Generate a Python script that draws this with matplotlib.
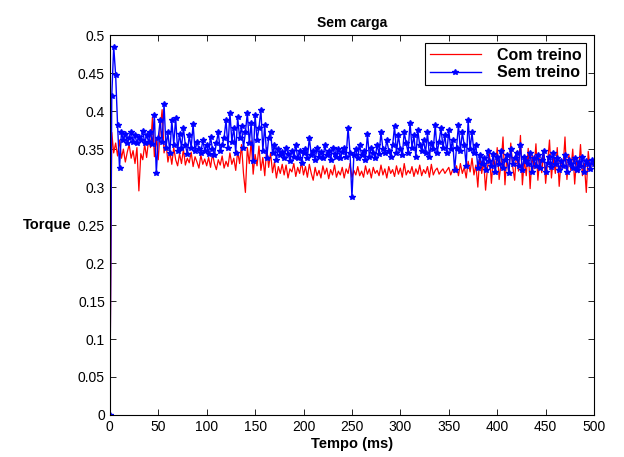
import numpy as np
import matplotlib
matplotlib.use("Agg")
import matplotlib.pyplot as plt

plt.rcParams['font.family'] = ['Liberation Sans', 'DejaVu Sans']

# time axis (ms), sampled every 2 ms
tempo = np.arange(0, 502, 2)

# torque with training (red)
com_treino = [
    0, 0.372, 0.345, 0.358, 0.341, 0.362, 0.338, 0.350, 0.333, 0.346,
    0.356, 0.338, 0.348, 0.331, 0.352, 0.295, 0.344, 0.336, 0.356, 0.339,
    0.362, 0.352, 0.392, 0.340, 0.365, 0.336, 0.376, 0.402, 0.345, 0.358,
    0.333, 0.347, 0.330, 0.352, 0.336, 0.328, 0.344, 0.331, 0.350, 0.329,
    0.338, 0.332, 0.346, 0.327, 0.340, 0.333, 0.325, 0.342, 0.330, 0.337,
    0.328, 0.339, 0.326, 0.344, 0.331, 0.323, 0.336, 0.329, 0.341, 0.325,
    0.334, 0.327, 0.345, 0.330, 0.338, 0.322, 0.347, 0.331, 0.356, 0.318,
    0.293, 0.352, 0.331, 0.361, 0.317, 0.343, 0.328, 0.354, 0.322, 0.339,
    0.315, 0.352, 0.326, 0.345, 0.319, 0.333, 0.312, 0.327, 0.318, 0.330,
    0.316, 0.329, 0.312, 0.324, 0.320, 0.331, 0.314, 0.326, 0.318, 0.333,
    0.316, 0.327, 0.313, 0.330, 0.318, 0.309, 0.326, 0.315, 0.322, 0.312,
    0.328, 0.317, 0.325, 0.311, 0.323, 0.316, 0.329, 0.313, 0.321, 0.316,
    0.326, 0.312, 0.324, 0.318, 0.331, 0.313, 0.322, 0.316, 0.327, 0.315,
    0.321, 0.313, 0.328, 0.317, 0.324, 0.312, 0.326, 0.318, 0.322, 0.315,
    0.329, 0.316, 0.324, 0.312, 0.327, 0.318, 0.323, 0.314, 0.328, 0.317,
    0.325, 0.313, 0.331, 0.316, 0.322, 0.318, 0.327, 0.314, 0.324, 0.317,
    0.329, 0.315, 0.323, 0.318, 0.327, 0.313, 0.330, 0.316, 0.322, 0.325,
    0.317, 0.321, 0.324, 0.318, 0.322, 0.326, 0.316, 0.323, 0.319, 0.328,
    0.315, 0.331, 0.318, 0.326, 0.312, 0.334, 0.320, 0.338, 0.316, 0.329,
    0.300, 0.341, 0.318, 0.335, 0.296, 0.326, 0.344, 0.305, 0.338, 0.322,
    0.352, 0.310, 0.331, 0.366, 0.303, 0.341, 0.318, 0.358, 0.327, 0.309,
    0.347, 0.321, 0.368, 0.303, 0.336, 0.315, 0.351, 0.298, 0.342, 0.324,
    0.357, 0.309, 0.338, 0.319, 0.348, 0.305, 0.332, 0.362, 0.312, 0.340,
    0.318, 0.352, 0.301, 0.336, 0.325, 0.366, 0.310, 0.343, 0.322, 0.350,
    0.304, 0.338, 0.319, 0.356, 0.315, 0.331, 0.293, 0.347, 0.323, 0.336,
    0.328,
]

# torque without training (blue)
sem_treino = [
    0, 0.420, 0.485, 0.448, 0.382, 0.325, 0.372, 0.362, 0.370, 0.358,
    0.365, 0.372, 0.360, 0.368, 0.358, 0.366, 0.362, 0.374, 0.358, 0.368,
    0.360, 0.372, 0.357, 0.395, 0.318, 0.365, 0.388, 0.360, 0.409, 0.352,
    0.372, 0.345, 0.388, 0.356, 0.391, 0.348, 0.370, 0.352, 0.378, 0.355,
    0.344, 0.368, 0.352, 0.383, 0.347, 0.360, 0.350, 0.345, 0.362, 0.348,
    0.356, 0.344, 0.366, 0.350, 0.342, 0.358, 0.372, 0.348, 0.355, 0.365,
    0.388, 0.352, 0.398, 0.360, 0.378, 0.345, 0.392, 0.365, 0.380, 0.352,
    0.372, 0.398, 0.358, 0.385, 0.335, 0.395, 0.362, 0.378, 0.402, 0.348,
    0.382, 0.338, 0.365, 0.372, 0.345, 0.355, 0.336, 0.350, 0.342, 0.346,
    0.338, 0.352, 0.344, 0.335, 0.348, 0.340, 0.356, 0.338, 0.347, 0.332,
    0.345, 0.350, 0.338, 0.365, 0.342, 0.348, 0.336, 0.352, 0.340, 0.346,
    0.338, 0.355, 0.342, 0.348, 0.336, 0.352, 0.344, 0.340, 0.350, 0.338,
    0.346, 0.352, 0.340, 0.378, 0.345, 0.287, 0.342, 0.350, 0.338, 0.355,
    0.342, 0.348, 0.336, 0.370, 0.340, 0.352, 0.345, 0.338, 0.356, 0.343,
    0.372, 0.350, 0.345, 0.362, 0.348, 0.340, 0.355, 0.380, 0.345, 0.368,
    0.350, 0.342, 0.372, 0.358, 0.345, 0.385, 0.352, 0.368, 0.340, 0.375,
    0.355, 0.348, 0.362, 0.345, 0.372, 0.340, 0.358, 0.350, 0.382, 0.345,
    0.360, 0.378, 0.352, 0.368, 0.345, 0.375, 0.350, 0.362, 0.322, 0.352,
    0.382, 0.348, 0.372, 0.355, 0.328, 0.388, 0.350, 0.372, 0.345, 0.355,
    0.325, 0.342, 0.330, 0.338, 0.322, 0.348, 0.335, 0.328, 0.344, 0.320,
    0.340, 0.330, 0.348, 0.325, 0.336, 0.342, 0.318, 0.350, 0.330, 0.338,
    0.345, 0.328, 0.355, 0.322, 0.340, 0.334, 0.330, 0.345, 0.320, 0.338,
    0.328, 0.342, 0.325, 0.336, 0.348, 0.320, 0.332, 0.340, 0.326, 0.345,
    0.330, 0.338, 0.322, 0.335, 0.328, 0.342, 0.320, 0.336, 0.330, 0.325,
    0.338, 0.322, 0.333, 0.328, 0.340, 0.320, 0.335, 0.330, 0.324, 0.336,
    0.330,
]

fig = plt.figure(figsize=(6.24, 4.57), dpi=100)
ax = fig.add_axes([0.176, 0.092, 0.776, 0.831])

ax.plot(tempo, com_treino, color='red', linewidth=0.9, label='Com treino')
ax.plot(tempo, sem_treino, color='blue', linewidth=1.0, marker='*',
        markersize=4, label='Sem treino')

ax.set_xlim(0, 500)
ax.set_ylim(0, 0.5)
ax.set_xticks(np.arange(0, 501, 50))
ax.set_yticks(np.arange(0, 0.51, 0.05))
ax.set_yticklabels(['0', '0.05', '0.1', '0.15', '0.2', '0.25', '0.3',
                    '0.35', '0.4', '0.45', '0.5'])
ax.tick_params(direction='in', top=True, right=True, labelsize=10,
               length=4, width=0.6)
for s in ax.spines.values():
    s.set_linewidth(0.8)

ax.set_title('Sem carga', fontsize=10, fontweight='bold', pad=6)
ax.set_xlabel('Tempo (ms)', fontsize=10.5, fontweight='bold', labelpad=2)
ax.set_ylabel('Torque', fontsize=10.5, fontweight='bold', rotation=0,
              labelpad=22, va='center')

leg = ax.legend(loc='upper right', fancybox=False, edgecolor='black',
                framealpha=1, borderaxespad=0.5, handlelength=3.2,
                borderpad=0.3, labelspacing=0.15, handletextpad=1.0,
                prop={'weight': 'bold', 'size': 11.5})
leg.get_frame().set_linewidth(0.8)

fig.savefig('out.png', dpi=100)
